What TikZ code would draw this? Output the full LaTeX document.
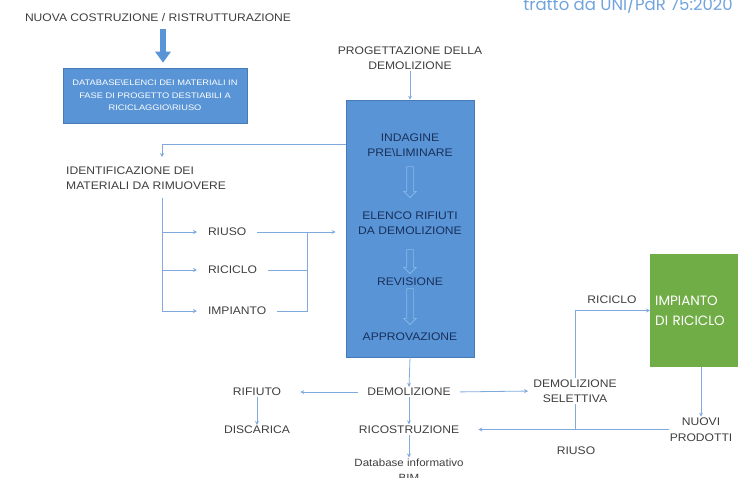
\documentclass[tikz,border=0pt]{standalone}
\usepackage{fontspec}
\setmainfont{Liberation Sans}[FakeStretch=1.1]
\newfontfamily\geofont{Poppins}
\usetikzlibrary{arrows.meta, shapes.arrows, positioning}

\definecolor{boxblue}{RGB}{88,148,214}
\definecolor{boxedge}{RGB}{72,122,182}
\definecolor{lineblue}{RGB}{128,170,222}
\definecolor{hollowblue}{RGB}{140,185,232}
\definecolor{txtgray}{RGB}{62,62,62}
\definecolor{darkblue}{RGB}{26,48,90}
\definecolor{plantgreen}{RGB}{112,173,71}
\definecolor{noteblue}{RGB}{112,164,222}

\tikzset{
  lbl/.style={text=txtgray, font=\fontsize{11}{15.5}\selectfont, align=center, inner sep=1pt},
  inbox/.style={text=darkblue, font=\fontsize{11}{15}\selectfont, align=center, inner sep=1pt},
  flow/.style={draw=lineblue, line width=0.8pt, -{Stealth[length=4pt,width=4pt]}},
  link/.style={draw=lineblue, line width=0.8pt},
  hollow/.style={single arrow, shape border rotate=270, draw=hollowblue, line width=0.6pt,
    inner sep=3pt, single arrow head extend=3pt, single arrow head indent=0pt},
  fat/.style={draw=boxblue, line width=6pt, -{Triangle[width=15pt,length=11pt]}},
  block/.style={fill=boxblue, draw=boxedge, line width=0.6pt}
}

\begin{document}
\begin{tikzpicture}[x=1pt, y=-1pt]
    %% Demolizione selettiva

    \useasboundingbox (0,0) rectangle (738,477);
    \clip (0,0) rectangle (738,477);

    % Top left
    \node[lbl] (nuova) at (158,18) {NUOVA COSTRUZIONE / RISTRUTTURAZIONE};
    \node[block, minimum width=184pt, minimum height=55pt, text=white,
      font=\fontsize{8}{12.5}\selectfont\addfontfeature{FakeStretch=1.16}, align=center] (dbase) at (155,95.5)
      {DATABASE\textbackslash ELENCI DEI MATERIALI IN\\FASE DI PROGETTO DESTIABILI A\\RICICLAGGIO\textbackslash RIUSO};
    \coordinate (fatx) at (163,0);
    \draw[fat] ([yshift=-6pt]nuova.south -| fatx) -- ([yshift=5pt]dbase.north -| fatx);

    % Note
    \node[anchor=base east, text=noteblue, font=\geofont\fontsize{16.5}{18}\selectfont, inner sep=0pt] (nota)
      at (733,10) {tratto da UNI/PdR 75:2020};

    % Main block
    \node[lbl] (prog) at (410,58) {PROGETTAZIONE DELLA\\DEMOLIZIONE};
    \node[block, minimum width=128pt, minimum height=257pt] (main) at (410,228.5) {};
    \node[inbox] (indag) at (410,145) {INDAGINE\\PRE\textbackslash LIMINARE};
    \node[inbox] (elenco) at (410,223.5) {ELENCO RIFIUTI\\DA DEMOLIZIONE};
    \node[inbox] (revis) at (410,282) {REVISIONE};
    \node[inbox] (appro) at (410,337) {APPROVAZIONE};
    \node[hollow, minimum height=31pt] (a1) at (410,180.5) {};
    \node[hollow, minimum height=24pt] (a2) at (410,260) {};
    \node[hollow, minimum height=36pt] (a3) at (410,305) {};
    \draw[flow] (prog.south) -- (main.north);

    % Identificazione
    \node[lbl, anchor=west, align=left] (ident) at (65,178) {IDENTIFICAZIONE DEI\\MATERIALI DA RIMUOVERE};
    \coordinate (idtop) at (162,157);
    \coordinate (trunk) at (162,198);
    \coordinate (merge) at (307,232);
    \draw[flow] (main.west |- 0,144) -| (idtop);

    \node[lbl, anchor=west, outer sep=10pt] (riuso) at (197,232) {RIUSO};
    \node[lbl, anchor=west, outer sep=10pt] (riciclo) at (197,270) {RICICLO};
    \node[lbl, anchor=west, outer sep=10pt] (impianto) at (197,311) {IMPIANTO};
    \draw[flow] (trunk) |- (riuso.west);
    \draw[flow] (trunk) |- (riciclo.west);
    \draw[flow] (trunk) |- (impianto.west);
    \draw[link] (impianto.east) -| (merge);
    \draw[link] (riciclo.east) -- (riciclo.east -| merge);
    \draw[flow, shorten >=10pt] (riuso.east) -- (riuso.east -| main.west);

    % Bottom
    \node[lbl] (demo) at (409,392) {DEMOLIZIONE};
    \node[lbl] (rifiuto) at (257,392) {RIFIUTO};
    \node[lbl] (disca) at (257,430) {DISCARICA};
    \node[lbl] (ricos) at (409,429.5) {RICOSTRUZIONE};
    \node[lbl, font=\fontsize{10.5}{15}\selectfont] (bim) at (409,470) {Database informativo\\BIM};
    \draw[flow] (main.south) -- (demo.north);
    \draw[flow, shorten <=8pt, shorten >=18pt] (demo.west) -- (rifiuto.east);
    \draw[flow] (rifiuto.south) -- (disca.north);
    \draw[flow] (demo.south) -- (ricos.north);
    \draw[flow] (ricos.south) -- (bim.north);

    % Right side
    \node[lbl] (selet) at (575,391) {DEMOLIZIONE\\SELETTIVA};
    \node[fill=plantgreen, minimum width=120pt, minimum height=113pt, text=white,
      font=\geofont\fontsize{13.5}{20}\selectfont, align=left, text width=110pt, inner xsep=4pt,
      anchor=west] (plant) at (650,310.5)
      {IMPIANTO\\DI RICICLO};
    \node[lbl] (lblric) at (612,300) {RICICLO};
    \node[lbl] (nuovi) at (701,429.5) {NUOVI\\PRODOTTI};
    \node[lbl] (lblriuso) at (576,451) {RIUSO};
    \draw[flow, shorten <=8pt, shorten >=4pt] (demo.east) -- (selet.west);
    \draw[flow] (selet.north) |- (plant.west);
    \draw[flow] (plant.south -| nuovi.north) -- (nuovi.north);
    \draw[flow, shorten >=18pt] (nuovi.west) -- (ricos.east);
    \draw[link] (selet.south) -- (selet.south |- ricos);

\end{tikzpicture}
\end{document}
